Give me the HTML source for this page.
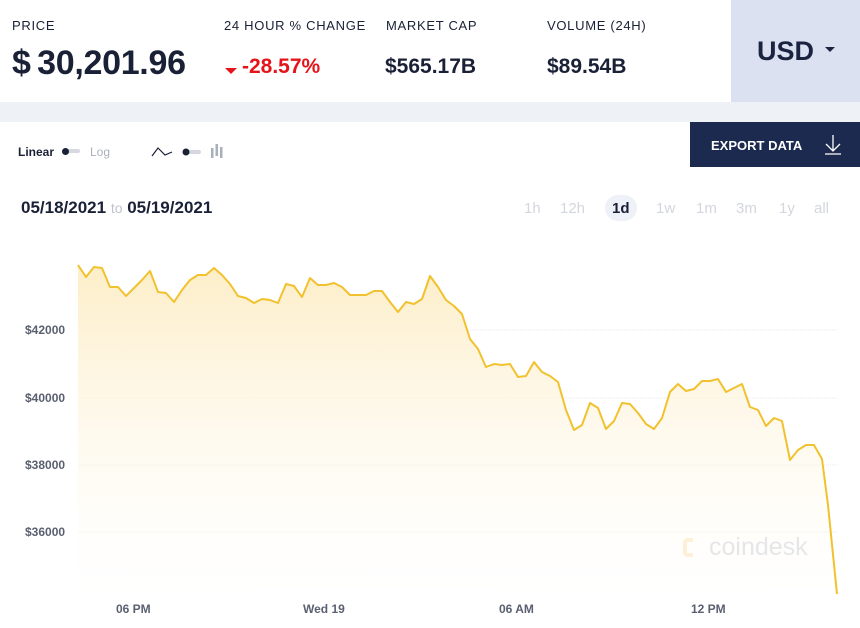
<!DOCTYPE html>
<html><head><meta charset="utf-8"><style>
*{margin:0;padding:0;box-sizing:border-box}
body{width:860px;height:628px;background:#fff;font-family:"Liberation Sans",sans-serif;position:relative;overflow:hidden;color:#1a2036}
.a{position:absolute;white-space:nowrap}
.lbl{font-size:13px;letter-spacing:0.7px;color:#1a2036;top:18px}
.val{font-size:21px;font-weight:bold;top:55px}
.tf{font-size:15px;color:#d3d6de;top:200px}
</style></head><body>
<div class="a" style="left:0;top:102px;width:860px;height:20px;background:#eef1f6"></div>
<div class="a" style="left:731px;top:0;width:129px;height:102px;background:#dce1f2"></div>
<div class="a" style="left:757px;top:36px;font-size:27px;font-weight:bold;color:#1a2340">USD</div>
<div class="a" style="left:825px;top:47px;width:0;height:0;border-left:5px solid transparent;border-right:5px solid transparent;border-top:5px solid #1a2340"></div>
<div class="a lbl" style="left:12px">PRICE</div>
<div class="a lbl" style="left:224px">24 HOUR % CHANGE</div>
<div class="a lbl" style="left:386px">MARKET CAP</div>
<div class="a lbl" style="left:547px">VOLUME (24H)</div>
<div class="a" style="left:12px;top:44px;font-size:34px;font-weight:bold;letter-spacing:-0.3px">$&#8201;30,201.96</div>
<div class="a" style="left:225px;top:68px;width:0;height:0;border-left:6px solid transparent;border-right:6px solid transparent;border-top:6px solid #e5141b"></div>
<div class="a val" style="left:242px;color:#e5141b">-28.57%</div>
<div class="a val" style="left:385px">$565.17B</div>
<div class="a val" style="left:547px">$89.54B</div>
<div class="a" style="left:690px;top:122px;width:170px;height:45px;background:#1b2a4e"></div>
<div class="a" style="left:711px;top:138px;font-size:13px;font-weight:bold;color:#fff">EXPORT DATA</div>
<svg class="a" style="left:822px;top:134px" width="22" height="22"><path d="M11 1V17M4 10L11 17L18 10M3 20H19" stroke="#fff" stroke-width="1.3" fill="none"/></svg>
<div class="a" style="left:18px;top:145px;font-size:12px;font-weight:bold">Linear</div>
<div class="a" style="left:62px;top:149px;width:18px;height:4px;background:#d5d8de;border-radius:2px"></div>
<div class="a" style="left:62px;top:148px;width:7px;height:7px;background:#1a2036;border-radius:50%"></div>
<div class="a" style="left:90px;top:145px;font-size:12px;color:#aab0bb">Log</div>
<svg class="a" style="left:150px;top:143px" width="80" height="16"><path d="M2 13L8 5L15 12L22 9" stroke="#1a2036" stroke-width="1.2" fill="none"/><rect x="33" y="7" width="18" height="4" rx="2" fill="#d5d8de"/><circle cx="36" cy="9" r="3.5" fill="#1a2036"/><rect x="61" y="5" width="2.5" height="10" fill="#aab0bb"/><rect x="65.5" y="1" width="2.5" height="12" fill="#aab0bb"/><rect x="70" y="4" width="2.5" height="11" fill="#aab0bb"/></svg>
<div class="a" style="left:21px;top:198px;font-size:17px;font-weight:bold">05/18/2021 <span style="color:#bfc3cc;font-weight:normal;font-size:14px">to</span> 05/19/2021</div>
<div class="a tf" style="left:524px">1h</div>
<div class="a tf" style="left:560px">12h</div>
<div class="a" style="left:605px;top:195px;width:32px;height:26px;border-radius:13px;background:#eef1f8"></div>
<div class="a tf" style="left:612px;color:#1a2036;font-weight:bold">1d</div>
<div class="a tf" style="left:656px">1w</div>
<div class="a tf" style="left:696px">1m</div>
<div class="a tf" style="left:736px">3m</div>
<div class="a tf" style="left:779px">1y</div>
<div class="a tf" style="left:814px">all</div>
<svg class="a" style="left:0;top:0" width="860" height="628">
<defs><linearGradient id="g" x1="0" y1="0" x2="0" y2="1"><stop offset="0" stop-color="#fdeec8"/><stop offset="1" stop-color="#fff" stop-opacity="0.3"/></linearGradient></defs>
<g stroke="#e6e8ec" stroke-dasharray="1 1"><line x1="78" y1="330" x2="837" y2="330"/><line x1="78" y1="398" x2="837" y2="398"/><line x1="78" y1="465" x2="837" y2="465"/><line x1="78" y1="532" x2="837" y2="532"/></g>
<g font-size="12" fill="#5a6070" font-weight="bold"><text x="25" y="334">$42000</text><text x="25" y="402">$40000</text><text x="25" y="469">$38000</text><text x="25" y="536">$36000</text>
<text x="116" y="613">06 PM</text><text x="303" y="613">Wed 19</text><text x="499" y="613">06 AM</text><text x="691" y="613">12 PM</text></g>
<text x="709" y="555" font-size="25" fill="#d4d7dd">coindesk</text>
<path d="M685 540h8M685 555h8M685 540v15" stroke="#fbe7bf" stroke-width="4" fill="none"/>
<path d="M78,265 86,277 94,267 102,268 110,287 118,287 126,296 134,288 142,280 150,271 158,292 166,293 174,302 182,290 190,280 198,275 206,275 214,268 222,275 230,284 238,296 246,298 254,303 262,299 270,300 278,303 286,284 294,286 302,297 310,278 318,285 326,285 334,283 342,287 350,295 358,295 366,295 374,291 382,291 390,302 398,312 406,302 414,304 422,299 430,276 438,287 446,300 454,306 462,314 470,339 478,349 486,367 494,364 502,365 510,364 518,377 526,376 534,362 542,372 550,376 558,382 566,410 574,430 582,425 590,403 598,408 606,429 614,421 622,403 630,404 638,413 646,424 654,429 662,418 670,392 678,384 686,391 694,389 702,381 710,381 718,379 726,392 734,388 742,384 750,407 758,410 766,426 774,418 782,421 790,460 798,450 806,445 814,445 822,459 828,505 837,594 837,596 78,596Z" fill="url(#g)"/>
<path d="M78,265 86,277 94,267 102,268 110,287 118,287 126,296 134,288 142,280 150,271 158,292 166,293 174,302 182,290 190,280 198,275 206,275 214,268 222,275 230,284 238,296 246,298 254,303 262,299 270,300 278,303 286,284 294,286 302,297 310,278 318,285 326,285 334,283 342,287 350,295 358,295 366,295 374,291 382,291 390,302 398,312 406,302 414,304 422,299 430,276 438,287 446,300 454,306 462,314 470,339 478,349 486,367 494,364 502,365 510,364 518,377 526,376 534,362 542,372 550,376 558,382 566,410 574,430 582,425 590,403 598,408 606,429 614,421 622,403 630,404 638,413 646,424 654,429 662,418 670,392 678,384 686,391 694,389 702,381 710,381 718,379 726,392 734,388 742,384 750,407 758,410 766,426 774,418 782,421 790,460 798,450 806,445 814,445 822,459 828,505 837,594" fill="none" stroke="#f2c12e" stroke-width="2" stroke-linejoin="round"/>
</svg>
</body></html>
